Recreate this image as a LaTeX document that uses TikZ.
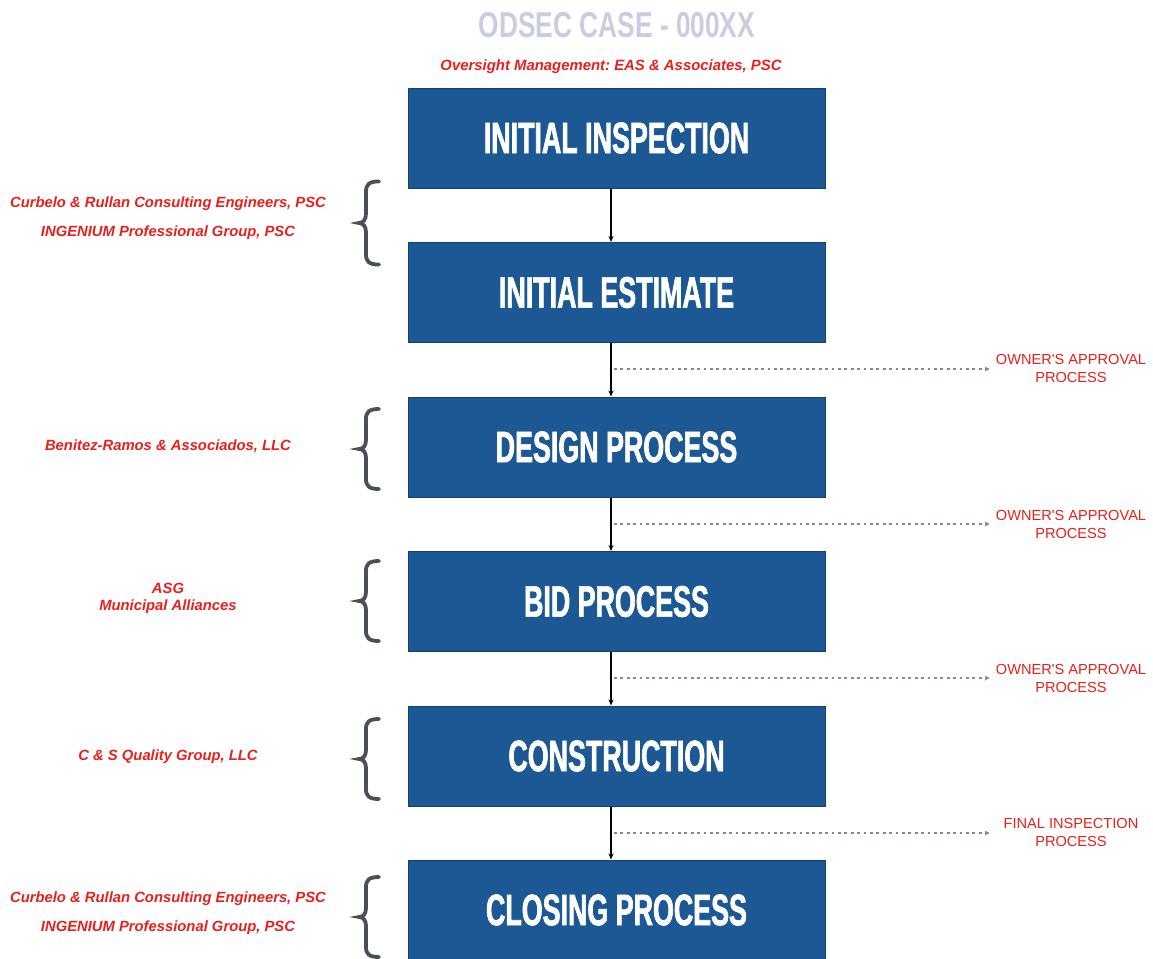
\documentclass[tikz,border=0pt]{standalone}
\usepackage{fontspec}
\setmainfont{Liberation Sans}
\newfontfamily\condfont{Liberation Sans Bold}[FakeStretch=0.61,FakeBold=1.5]
\newfontfamily\titlefont{Liberation Sans Bold}[FakeStretch=0.73]
\usetikzlibrary{arrows.meta}
\definecolor{boxblue}{HTML}{1B5894}
\definecolor{boxedge}{HTML}{163F6A}
\definecolor{redtxt}{HTML}{E8201C}
\definecolor{titlegrey}{HTML}{CACDE0}
\definecolor{dotblue}{HTML}{7E89A8}
\definecolor{bracegrey}{HTML}{4A5058}
\frenchspacing
\begin{document}
\begin{tikzpicture}[x=1pt,y=-1pt,
  stage/.style={draw=boxedge,line width=1pt,fill=boxblue,minimum width=417pt,minimum height=100pt,inner sep=0pt,
    text=white,font=\condfont\fontsize{44}{44}\selectfont},
  firm/.style={text=redtxt,font=\bfseries\itshape\fontsize{14.8}{29}\selectfont,align=center,inner sep=0pt},
  approval/.style={text=redtxt,font=\fontsize{14.6}{18}\selectfont,align=center,inner sep=0pt},
  flow/.style={draw=black,line width=1.3pt,-{Stealth[length=6pt,width=5pt]}},
  dotted flow/.style={draw=dotblue,line width=1.6pt,dash pattern=on 2.8pt off 3.6pt,-{Stealth[length=5pt,width=5pt]},shorten >=6pt},
  bracestyle/.style={draw=bracegrey,line width=3.8pt,line cap=round},
  curly/.pic={\draw[bracestyle] (13,-40) .. controls (3,-40) and (0,-37) .. (0,-30) -- (0,-9) .. controls (0,-3) and (-3,0) .. (-7,0) .. controls (-3,0) and (0,3) .. (0,9) -- (0,30) .. controls (0,37) and (3,40) .. (13,40);}
]
\useasboundingbox (0,0) rectangle (1153,958);

% title
\node[text=titlegrey,font=\titlefont\fontsize{36}{36}\selectfont,inner sep=0pt] (title) at (617,25) {ODSEC CASE - 000XX};
\node[text=redtxt,font=\bfseries\itshape\fontsize{14.9}{17}\selectfont,inner sep=0pt] (oversight) at (611,67) {Oversight Management: EAS \& Associates, PSC};

% stages
\node[stage] (b1) at (616.5,138) {INITIAL INSPECTION};
\node[stage] (b2) at (616.5,292.5) {INITIAL ESTIMATE};
\node[stage] (b3) at (616.5,447) {DESIGN PROCESS};
\node[stage] (b4) at (616.5,601.5) {BID PROCESS};
\node[stage] (b5) at (616.5,756) {CONSTRUCTION};
\node[stage] (b6) at (616.5,910) {CLOSING PROCESS};

% vertical connectors
\draw[flow] ([xshift=-5.5pt]b1.south) -- ([xshift=-5.5pt]b2.north);
\draw[flow] ([xshift=-5.5pt]b2.south) -- ([xshift=-5.5pt]b3.north);
\draw[flow] ([xshift=-5.5pt]b3.south) -- ([xshift=-5.5pt]b4.north);
\draw[flow] ([xshift=-5.5pt]b4.south) -- ([xshift=-5.5pt]b5.north);
\draw[flow] ([xshift=-5.5pt]b5.south) -- ([xshift=-5.5pt]b6.north);

% approval labels
\node[approval] (o1) at (1071,368) {OWNER\textquotesingle S APPROVAL\\PROCESS};
\node[approval] (o2) at (1071,524) {OWNER\textquotesingle S APPROVAL\\PROCESS};
\node[approval] (o3) at (1071,678) {OWNER\textquotesingle S APPROVAL\\PROCESS};
\node[approval] (o4) at (1071,832) {FINAL INSPECTION\\PROCESS};

\coordinate (m1) at (614,369);
\coordinate (m2) at (614,524);
\coordinate (m3) at (614,678);
\coordinate (m4) at (614,833);
\draw[dotted flow] (m1) -- (m1 -| o1.west);
\draw[dotted flow] (m2) -- (m2 -| o2.west);
\draw[dotted flow] (m3) -- (m3 -| o3.west);
\draw[dotted flow] (m4) -- (m4 -| o3.west);

% braces
\pic[yscale=1.04] at (366,223) {curly};
\pic at (366,449) {curly};
\pic at (366,601) {curly};
\pic at (366,759) {curly};
\pic at (366,917) {curly};

% firms
\node[firm] (f1) at (168,218.5) {Curbelo \& Rullan Consulting Engineers, PSC\\INGENIUM Professional Group, PSC};
\node[firm] (f2) at (168,446) {Benitez-Ramos \& Associados, LLC};
\node[firm,font=\bfseries\itshape\fontsize{14.8}{17}\selectfont] (f3) at (168,598) {ASG\\Municipal Alliances};
\node[firm] (f4) at (168,757) {C \& S Quality Group, LLC};
\node[firm] (f5) at (168,913.5) {Curbelo \& Rullan Consulting Engineers, PSC\\INGENIUM Professional Group, PSC};
\end{tikzpicture}
\end{document}
